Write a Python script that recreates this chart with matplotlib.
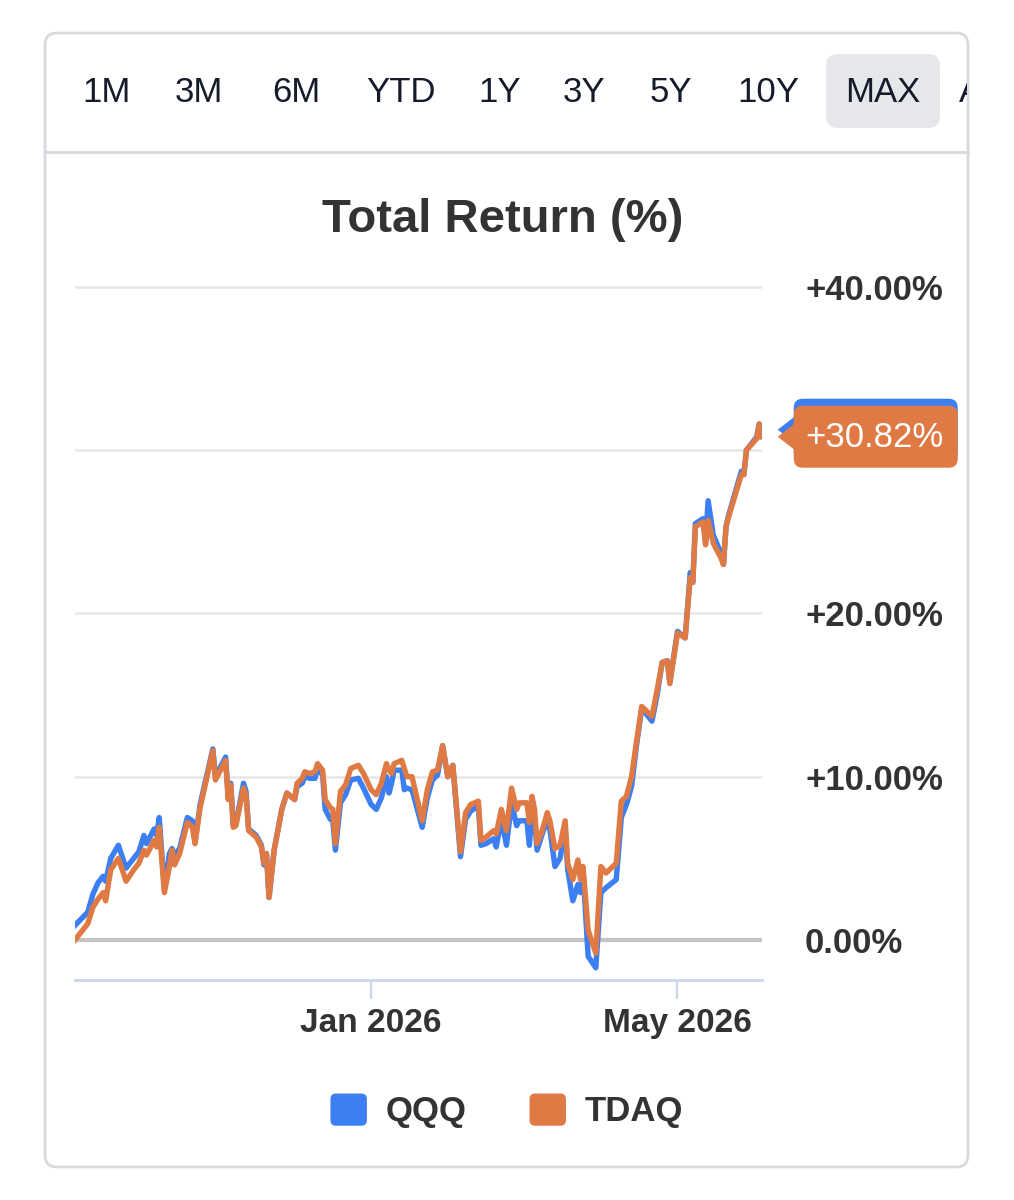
import numpy as np
import pandas as pd
import matplotlib
matplotlib.use('Agg')
import matplotlib.pyplot as plt
import matplotlib.dates as mdates
from matplotlib.patches import FancyBboxPatch, Polygon, Patch
from matplotlib.legend_handler import HandlerPatch

plt.rcParams['font.family'] = ['Liberation Sans', 'DejaVu Sans']

# values (total return, %)
dates = [
    '2025-09-07', '2025-09-12', '2025-09-14', '2025-09-16', '2025-09-18', '2025-09-19',
    '2025-09-21', '2025-09-24', '2025-09-27', '2025-09-30', '2025-10-02', '2025-10-04',
    '2025-10-05', '2025-10-08', '2025-10-09', '2025-10-10', '2025-10-12', '2025-10-14',
    '2025-10-15', '2025-10-16', '2025-10-18', '2025-10-21', '2025-10-23', '2025-10-24',
    '2025-10-26', '2025-10-31', '2025-11-01', '2025-11-05', '2025-11-06', '2025-11-07',
    '2025-11-08', '2025-11-09', '2025-11-12', '2025-11-13', '2025-11-14', '2025-11-17',
    '2025-11-19', '2025-11-20', '2025-11-21', '2025-11-22', '2025-11-24', '2025-11-27',
    '2025-11-29', '2025-12-02', '2025-12-03', '2025-12-05', '2025-12-06', '2025-12-08',
    '2025-12-10', '2025-12-11', '2025-12-13', '2025-12-14', '2025-12-16', '2025-12-17',
    '2025-12-18', '2025-12-20', '2025-12-22', '2025-12-24', '2025-12-27', '2025-12-29',
    '2026-01-01', '2026-01-03', '2026-01-05', '2026-01-07', '2026-01-08', '2026-01-09',
    '2026-01-10', '2026-01-13', '2026-01-14', '2026-01-15', '2026-01-17', '2026-01-21',
    '2026-01-23', '2026-01-25', '2026-01-27', '2026-01-29', '2026-01-31', '2026-02-02',
    '2026-02-05', '2026-02-07', '2026-02-09', '2026-02-12', '2026-02-13', '2026-02-15',
    '2026-02-18', '2026-02-19', '2026-02-21', '2026-02-22', '2026-02-23', '2026-02-25',
    '2026-02-27', '2026-02-28', '2026-03-03', '2026-03-04', '2026-03-05', '2026-03-06',
    '2026-03-07', '2026-03-09', '2026-03-11', '2026-03-12', '2026-03-14', '2026-03-16',
    '2026-03-18', '2026-03-19', '2026-03-21', '2026-03-23', '2026-03-24', '2026-03-25',
    '2026-03-27', '2026-03-30', '2026-04-01', '2026-04-03', '2026-04-07', '2026-04-09',
    '2026-04-11', '2026-04-13', '2026-04-15', '2026-04-17', '2026-04-21', '2026-04-23',
    '2026-04-25', '2026-04-27', '2026-04-28', '2026-05-01', '2026-05-04', '2026-05-06',
    '2026-05-07', '2026-05-08', '2026-05-11', '2026-05-12', '2026-05-13', '2026-05-15',
    '2026-05-18', '2026-05-19', '2026-05-20', '2026-05-21', '2026-05-26', '2026-05-27',
    '2026-05-28', '2026-06-01', '2026-06-02', '2026-06-03',
]

tdaq = [
    0.0, 1.0, 2.0, 2.5, 2.9, 2.4, 4.3, 5.0, 3.6, 4.3, 4.7, 5.5,
    5.2, 6.1, 5.7, 6.9, 2.9, 4.5, 5.5, 4.6, 5.3, 7.2, 6.9, 5.9,
    8.1, 11.6, 9.8, 11.0, 8.6, 9.5, 6.9, 7.0, 9.3, 8.9, 6.7, 6.3,
    5.7, 4.7, 5.3, 2.6, 5.5, 8.0, 9.0, 8.6, 9.6, 9.9, 10.3, 10.2,
    10.3, 10.8, 10.4, 8.6, 8.1, 8.0, 5.9, 9.1, 9.5, 10.5, 10.7, 10.2,
    9.2, 8.9, 9.6, 10.8, 10.4, 10.2, 10.8, 11.0, 10.5, 10.0, 10.0, 7.3,
    9.2, 10.3, 10.4, 11.9, 10.0, 10.7, 5.4, 7.8, 8.3, 8.5, 6.1, 6.3,
    6.7, 6.5, 8.0, 7.3, 6.7, 9.3, 8.0, 8.4, 8.4, 7.2, 8.8, 8.0,
    5.9, 6.7, 7.8, 7.3, 5.6, 5.8, 7.3, 4.7, 3.7, 4.9, 3.7, 4.5,
    0.6, -0.8, 4.5, 4.1, 4.7, 8.5, 8.8, 10.0, 12.2, 14.3, 13.7, 15.3,
    17.0, 17.1, 15.7, 18.8, 18.5, 22.2, 21.9, 25.3, 25.6, 24.2, 25.7, 24.3,
    23.4, 23.0, 25.3, 25.9, 28.5, 28.5, 30.0, 30.7, 31.6, 30.82,
]

qqq = [
    0.9, 1.7, 2.8, 3.5, 3.9, 3.6, 5.0, 5.8, 4.4, 5.0, 5.4, 6.4,
    5.9, 6.8, 6.4, 7.5, 3.1, 5.3, 5.6, 5.2, 5.6, 7.5, 7.3, 6.0,
    8.3, 11.7, 10.0, 11.2, 8.8, 9.6, 7.0, 7.1, 9.6, 9.1, 6.8, 6.4,
    5.8, 4.6, 5.3, 2.6, 5.5, 8.0, 9.0, 8.6, 9.4, 9.6, 10.0, 9.9,
    9.9, 10.5, 10.1, 8.0, 7.4, 7.3, 5.5, 8.4, 8.9, 9.8, 9.9, 9.3,
    8.3, 8.0, 8.7, 10.0, 9.0, 9.6, 10.4, 10.4, 9.2, 9.3, 9.2, 6.9,
    8.7, 9.8, 10.1, 11.9, 10.0, 10.7, 5.1, 7.4, 7.9, 8.2, 5.8, 5.9,
    6.2, 5.7, 7.4, 6.6, 5.8, 8.4, 7.0, 7.3, 7.3, 5.8, 8.0, 7.4,
    5.5, 6.5, 7.3, 6.8, 4.5, 5.0, 6.8, 4.3, 2.4, 3.4, 2.9, 4.2,
    -1.0, -1.7, 2.9, 3.2, 3.7, 7.5, 8.3, 9.4, 12.0, 14.2, 13.4, 15.0,
    17.0, 17.1, 15.8, 18.9, 18.5, 22.5, 21.9, 25.5, 25.8, 24.4, 26.9, 24.8,
    23.7, 23.0, 25.3, 26.0, 28.7, 28.5, 30.0, 30.8, 31.6, 31.25,
]

series_names = ['QQQ', 'TDAQ']
series_colors = ['#3b7ff2', '#e07a44']
y_ticks = [0, 10, 20, 30, 40]
x_ticks = ['2026-01-01', '2026-05-01']
x_tick_labels = ['Jan 2026', 'May 2026']
tabs = ['1M', '3M', '6M', 'YTD', '1Y', '3Y', '5Y', '10Y', 'MAX', 'ALL']


class RoundSquare(HandlerPatch):
    def create_artists(self, legend, orig_handle, xdescent, ydescent,
                       width, height, fontsize, trans):
        p = FancyBboxPatch((-xdescent, -ydescent), width, height,
                           boxstyle='round,pad=0,rounding_size=4',
                           fc=orig_handle.get_facecolor(), ec='none', transform=trans)
        return [p]


W, H = 1014, 1200
fig = plt.figure(figsize=(W / 100, H / 100), dpi=100, facecolor='white')

# pixel-space background axes for the card
bg = fig.add_axes([0, 0, 1, 1], zorder=0)
bg.set_xlim(0, W)
bg.set_ylim(H, 0)
bg.axis('off')
bg.add_patch(FancyBboxPatch((45, 33), 923, 1134, boxstyle='round,pad=0,rounding_size=12',
                            fc='white', ec='#d6d9de', lw=2))
bg.plot([45, 968], [152, 152], color='#d6d9de', lw=2)

# range selector tabs
tab_ax = fig.add_axes([46 / W, (H - 151) / H, (967 - 46) / W, 117 / H], zorder=1)
tab_ax.set_xlim(46, 967)
tab_ax.set_ylim(151, 34)
tab_ax.axis('off')
tab_x = [107, 199, 296, 401, 500, 584, 671, 768, 883, 990]
tab_ax.add_patch(FancyBboxPatch((826, 54), 114, 74, boxstyle='round,pad=0,rounding_size=12',
                                fc='#e5e7eb', ec='none'))
for lab, tx in zip(tabs, tab_x):
    tab_ax.text(tx, 93, lab, ha='center', va='center', fontsize=25, color='#151b2b',
                clip_on=True)

fig.text(503 / W, 1 - 220 / H, 'Total Return (%)', ha='center', va='center',
         fontsize=34, fontweight='bold', color='#333333')

# main plot
x = pd.to_datetime(dates)
x0 = pd.Timestamp('2025-09-07')
x1 = x0 + pd.Timedelta(days=269.1)
ax = fig.add_axes([75 / W, (H - 980) / H, (762 - 75) / W, (980 - 270.5) / H], zorder=2)
ax.set_facecolor('none')
ax.set_xlim(x0, x1)
ax.set_ylim(-2.45, 41)

ax.set_yticks(y_ticks)
ax.set_yticklabels([f'+{v:.2f}%' if v > 0 else f'{v:.2f}%' for v in y_ticks])
ax.yaxis.tick_right()
ax.tick_params(axis='y', length=0, pad=31, labelsize=25, labelcolor='#333333')
for v, t in zip(y_ticks, ax.get_yticklabels()):
    t.set_fontweight('bold')
    t.set_horizontalalignment('left')
    if v == 30:
        t.set_visible(False)   # sits under the last-value callout

ax.set_xticks(pd.to_datetime(x_ticks))
ax.set_xticklabels(x_tick_labels)
ax.tick_params(axis='x', length=14, width=1.6, color='#ccd6eb', pad=6,
               labelsize=24, labelcolor='#333333')
for t in ax.get_xticklabels():
    t.set_fontweight('bold')

for s in ['top', 'left', 'right']:
    ax.spines[s].set_visible(False)
ax.spines['bottom'].set_color('#ccd6eb')
ax.spines['bottom'].set_linewidth(2)

for v in y_ticks:
    if v == 0:
        ax.axhline(v, color='#c4c4c4', lw=3, zorder=1)
    else:
        ax.axhline(v, color='#e6e6e6', lw=1.8, zorder=1)

for vals, col in zip([qqq, tdaq], series_colors):
    ax.plot(x, vals, color=col, lw=3.9, solid_joinstyle='round', zorder=3)

# last-value callouts, drawn above the tick labels
top = fig.add_axes([0, 0, 1, 1], zorder=4)
top.set_xlim(0, W)
top.set_ylim(H, 0)
top.axis('off')
for k, (vals, col) in enumerate(zip([qqq, tdaq], series_colors)):
    disp = ax.transData.transform((mdates.date2num(x[-1]), vals[-1]))
    px, py = top.transData.inverted().transform(disp)
    bx = px + 32
    z = 5 + 2 * k
    top.add_patch(FancyBboxPatch((bx, py - 31), 164, 62, boxstyle='round,pad=0,rounding_size=9',
                                 fc=col, ec='none', zorder=z))
    top.add_patch(Polygon([(px + 16, py), (bx + 2, py - 14), (bx + 2, py + 14)],
                          closed=True, fc=col, ec='none', zorder=z))
    if k == 1:
        top.text(bx + 81, py + 1, f'+{vals[-1]:.2f}%', ha='center', va='center',
                 fontsize=25, color='white', zorder=z + 1)

handles = [Patch(fc=c, ec='none', label=n) for n, c in zip(series_names, series_colors)]
fig.legend(handles=handles, loc='center', bbox_to_anchor=(507 / W, 1 - 1111 / H), ncol=2,
           frameon=False, prop={'size': 25, 'weight': 'bold'}, labelcolor='#333333',
           handlelength=1.05, handleheight=1.05, handletextpad=0.55, columnspacing=1.8,
           handler_map={Patch: RoundSquare()})

fig.savefig('out.png', dpi=100)
